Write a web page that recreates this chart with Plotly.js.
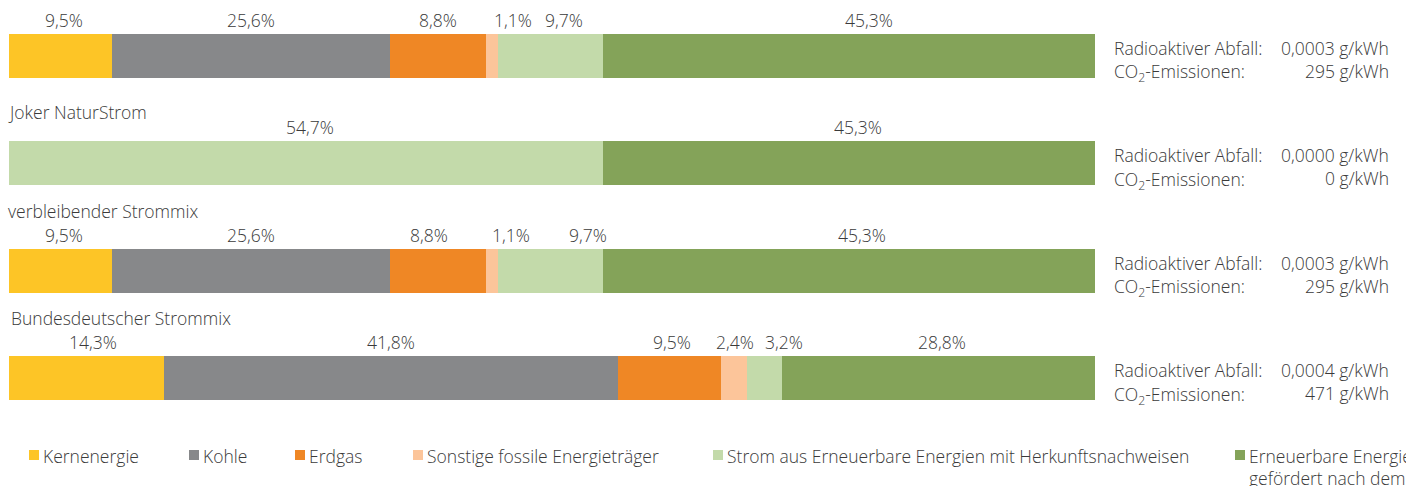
<!DOCTYPE html>
<html>
<head>
<meta charset="utf-8">
<script src="https://cdn.plot.ly/plotly-3.0.1.min.js"></script>
<style>
html,body{margin:0;padding:0;background:#fff;overflow:hidden;}
#chart{width:1406px;height:486px;}
</style>
</head>
<body>
<div id="chart"></div>
<script>
// ---- data ----
const categories = ["Joker Strommix", "Joker NaturStrom", "verbleibender Strommix", "Bundesdeutscher Strommix"];
const groupTitles = ["", "Joker NaturStrom", "verbleibender Strommix", "Bundesdeutscher Strommix"];
const seriesNames = [
  "Kernenergie",
  "Kohle",
  "Erdgas",
  "Sonstige fossile Energieträger",
  "Strom aus Erneuerbare Energien mit Herkunftsnachweisen",
  "Erneuerbare Energien, gefördert nach dem EEG"
];
const kernenergie = [9.5, 0, 9.5, 14.3];
const kohle       = [25.6, 0, 25.6, 41.8];
const erdgas      = [8.8, 0, 8.8, 9.5];
const sonstige    = [1.1, 0, 1.1, 2.4];
const stromHKN    = [9.7, 54.7, 9.7, 3.2];
const eeg         = [45.3, 45.3, 45.3, 28.8];
const radioaktiverAbfall = ["0,0003", "0,0000", "0,0003", "0,0004"];
const co2Emissionen      = ["295", "0", "295", "471"];

// ---- styles ----
const colors = ["#FDC526", "#87888A", "#EF8725", "#FCC59A", "#C3DAAA", "#84A359"];
const FONT = "Open Sans, Liberation Sans, Arial, sans-serif";
const TXT = "#3a3a3a";
const FS = 17.5;
const W = 1406, H = 486;
const M = {l: 9, r: 311, t: 2, b: 54};
const PW = W - M.l - M.r, PH = H - M.t - M.b;
// label x-shift tweaks (px), per category / series
const labelShift = [
  [3, 0, 0, 21, 14, 20],
  [0, 0, 0, 0, 4, 9],
  [3, 0, -9, 19, 38, 13],
  [6, 0, 2, 1, 19, 3]
];
const titleShiftY = [0, 51, 60, 60];
const titleShiftX = [0, 0, 0, 3];
const legendLeft = [29, 189, 295, 413, 713, 1235];

const series = [kernenergie, kohle, erdgas, sonstige, stromHKN, eeg];
const px2x = p => (p - M.l) / PW;
const py2y = p => 1 - (p - M.t) / PH;
const fmt = v => v.toFixed(1).replace('.', ',') + '%';

const traces = series.map((vals, s) => ({
  type: 'bar',
  orientation: 'h',
  name: seriesNames[s],
  x: vals,
  y: categories,
  width: 0.41,
  marker: {color: colors[s], line: {width: 0}},
  showlegend: false,
  hoverinfo: 'skip'
}));

const annotations = [];
const shapes = [];
const font = {family: FONT, size: FS, color: TXT, weight: 300};

categories.forEach((cat, c) => {
  let cum = 0;
  series.forEach((vals, s) => {
    const v = vals[c];
    if (v > 0) {
      annotations.push({
        x: cum + v / 2, y: cat, xref: 'x', yref: 'y',
        text: fmt(v), showarrow: false, xanchor: 'center', yanchor: 'middle',
        yshift: 36, xshift: labelShift[c][s], font: font
      });
    }
    cum += v;
  });
  if (groupTitles[c]) {
    annotations.push({
      x: 0, y: cat, xref: 'x', yref: 'y', text: groupTitles[c], showarrow: false,
      xanchor: 'left', yanchor: 'middle', yshift: titleShiftY[c], xshift: titleShiftX[c] - 3, font: font
    });
  }
  // right info block
  annotations.push({x: px2x(1112), y: cat, xref: 'paper', yref: 'y', text: 'Radioaktiver Abfall:',
    showarrow: false, xanchor: 'left', yanchor: 'middle', yshift: 8, font: font});
  annotations.push({x: px2x(1391), y: cat, xref: 'paper', yref: 'y', text: radioaktiverAbfall[c] + ' g/kWh',
    showarrow: false, xanchor: 'right', yanchor: 'middle', yshift: 8, font: font});
  annotations.push({x: px2x(1112), y: cat, xref: 'paper', yref: 'y', text: 'CO<sub>2</sub>-Emissionen:',
    showarrow: false, xanchor: 'left', yanchor: 'middle', yshift: -17, font: font});
  annotations.push({x: px2x(1391), y: cat, xref: 'paper', yref: 'y', text: co2Emissionen[c] + ' g/kWh',
    showarrow: false, xanchor: 'right', yanchor: 'middle', yshift: -15, font: font});
});

// legend (manual)
seriesNames.forEach((name, s) => {
  const x0 = legendLeft[s];
  shapes.push({type: 'rect', xref: 'paper', yref: 'paper',
    x0: px2x(x0), x1: px2x(x0 + 10), y0: py2y(460), y1: py2y(450),
    fillcolor: colors[s], line: {width: 0}});
  const parts = name.split(', ');
  if (parts.length > 1) {
    annotations.push({x: px2x(x0 + 12), y: py2y(456), xref: 'paper', yref: 'paper', text: parts[0],
      showarrow: false, xanchor: 'left', yanchor: 'middle', font: font});
    annotations.push({x: px2x(x0 + 12), y: py2y(478), xref: 'paper', yref: 'paper', text: parts[1],
      showarrow: false, xanchor: 'left', yanchor: 'middle', font: font});
  } else {
    annotations.push({x: px2x(x0 + 12), y: py2y(456), xref: 'paper', yref: 'paper', text: name,
      showarrow: false, xanchor: 'left', yanchor: 'middle', font: font});
  }
});

const layout = {
  width: W, height: H,
  margin: M,
  barmode: 'stack',
  bargap: 0,
  paper_bgcolor: '#fff', plot_bgcolor: '#fff',
  showlegend: false,
  xaxis: {range: [0, 100], visible: false, fixedrange: true},
  yaxis: {type: 'category', categoryarray: categories, range: [3.5, -0.5], visible: false, fixedrange: true},
  annotations: annotations,
  shapes: shapes,
  font: {family: FONT, size: FS, color: TXT}
};

Plotly.newPlot('chart', traces, layout, {displayModeBar: false, staticPlot: true});
</script>
</body>
</html>
